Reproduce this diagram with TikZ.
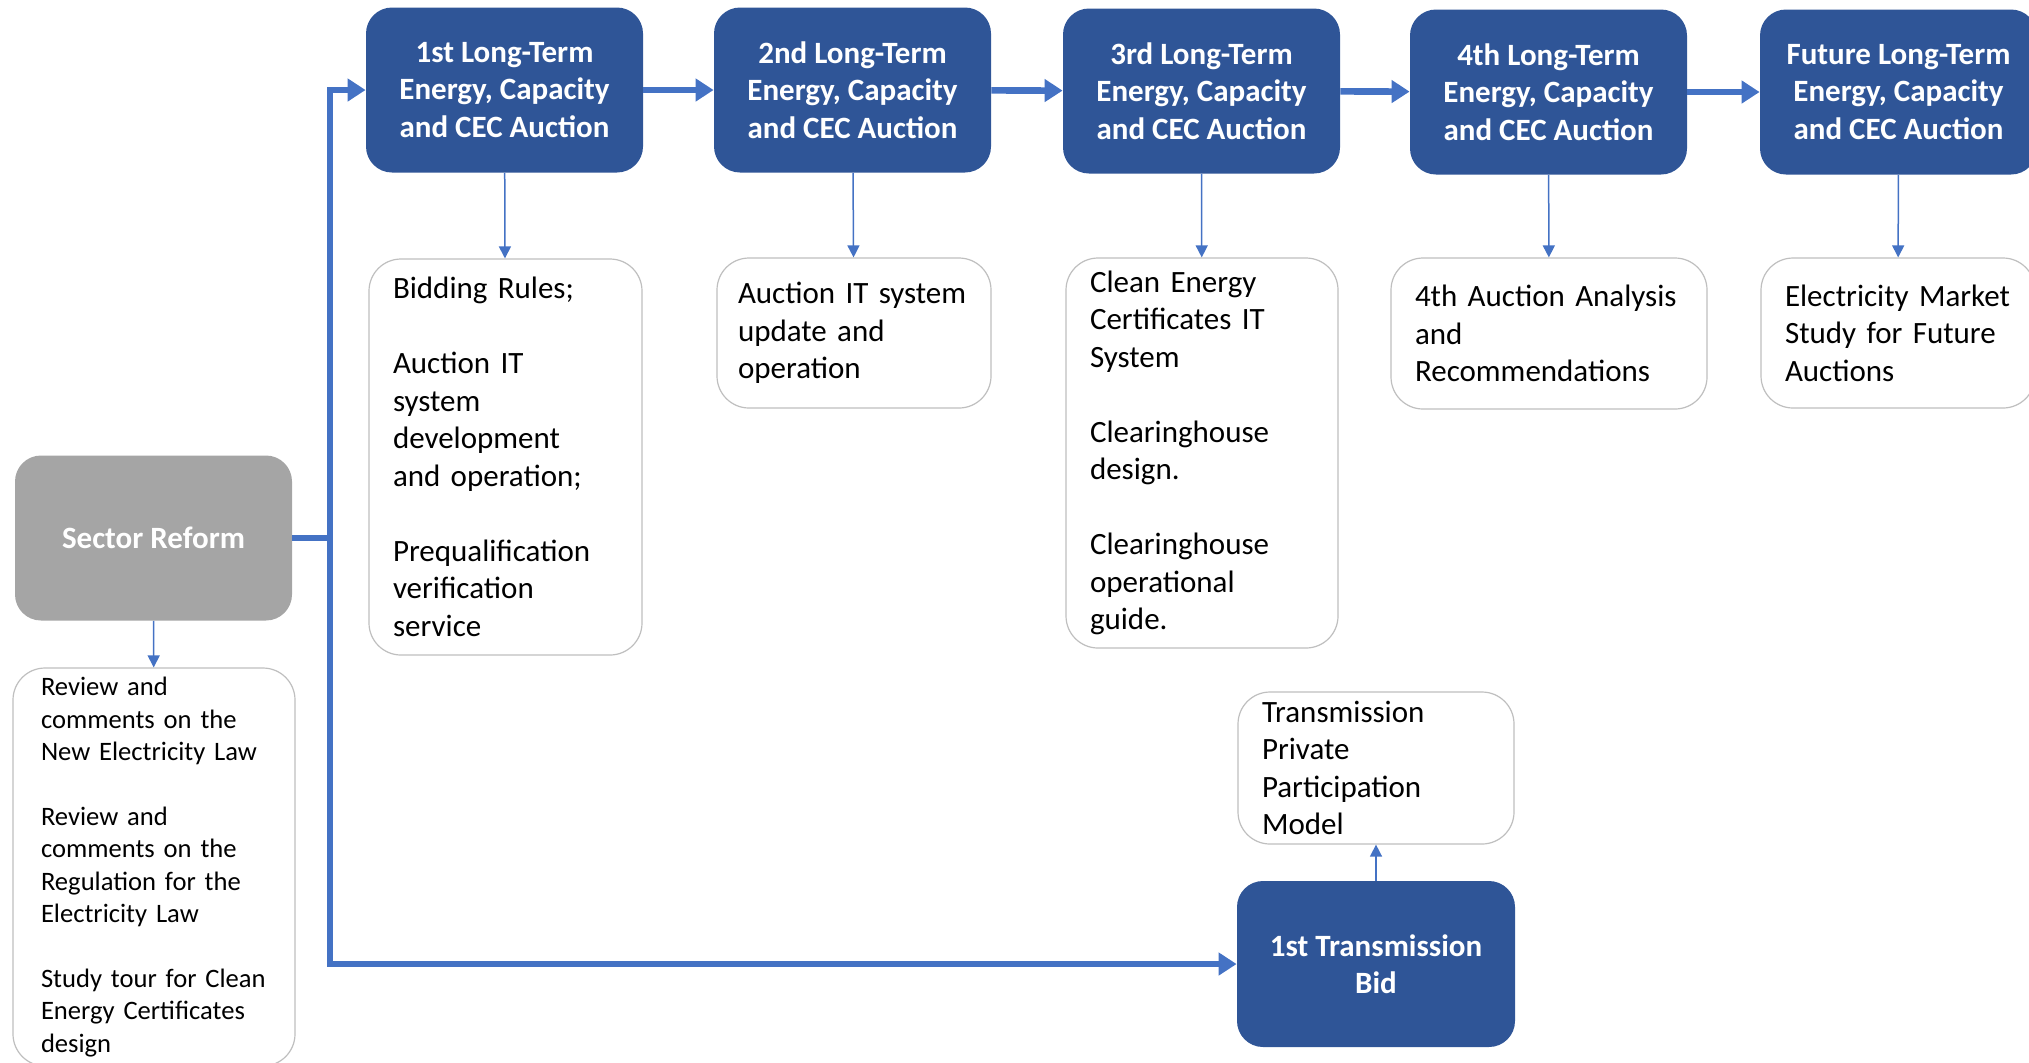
\documentclass[tikz,border=0pt]{standalone}
\usepackage{fontspec}
\setmainfont{Carlito}
\usepackage{xcolor}
\definecolor{auctionblue}{RGB}{47,85,151}
\definecolor{arrowblue}{RGB}{68,114,196}
\definecolor{reformgray}{RGB}{165,165,165}
\definecolor{edgegray}{RGB}{191,191,191}
\usetikzlibrary{arrows.meta}
\usetikzlibrary{positioning}

\begin{document}
\begin{tikzpicture}[x=0.5pt, y=-0.5pt,
	bigbox/.style={rounded corners=13pt, fill=auctionblue, text=white, align=center, font=\bfseries\fontsize{15.5}{18.75}\selectfont, minimum width=138.5pt, minimum height=82.5pt, inner sep=2pt},
	taskbox/.style={rounded corners=16pt, draw=edgegray, line width=0.6pt, fill=white, align=left, inner xsep=12pt, inner ysep=2pt, font=\fontsize{15.5}{18.75}\selectfont},
	mainflow/.style={draw=arrowblue, line width=3.3pt, -{Triangle[length=9pt,width=11pt]}},
	subflow/.style={draw=arrowblue, line width=0.75pt, -{Triangle[length=6pt,width=6pt]}}]
	\useasboundingbox (0,0) rectangle (2029,1062);
			% auctions
	\node[bigbox] (auc1) at (504.5,90) {1st Long-Term\\Energy, Capacity\\and CEC Auction};
	\node[bigbox] (auc2) at (852.5,90) {2nd Long-Term\\Energy, Capacity\\and CEC Auction};
	\node[bigbox] (auc3) at (1201.5,91) {3rd Long-Term\\Energy, Capacity\\and CEC Auction};
	\node[bigbox] (auc4) at (1548.5,92) {4th Long-Term\\Energy, Capacity\\and CEC Auction};
	\node[bigbox] (auc5) at (1898.5,92) {Future Long-Term\\Energy, Capacity\\and CEC Auction};
	\node[bigbox, fill=reformgray] (reform) at (153.5,538) {Sector Reform};
	\node[bigbox, minimum width=139pt, minimum height=83pt] (tbid) at (1376,964) {1st Transmission\\Bid};
			% tasks
	\node[taskbox, text width=112.5pt, minimum height=198pt] (task1) at (505.5,457) {Bidding Rules;\\[18.75pt]Auction IT\\system\\development\\and operation;\\[18.75pt]Prequalification\\verification\\service};
	\node[taskbox, inner xsep=10.5pt, text width=116pt, minimum height=75pt] (task2) at (854,333) {\mbox{Auction IT system}\\update and\\operation};
	\node[taskbox, text width=112pt, minimum height=195pt] (task3) at (1202,453) {Clean Energy\\Certificates IT\\System\\[18.75pt]Clearinghouse\\design.\\[18.75pt]Clearinghouse\\operational\\guide.};
	\node[taskbox, text width=134pt, minimum height=75.5pt] (task4) at (1549,333.5) {4th Auction Analysis\\and\\Recommendations};
	\node[taskbox, text width=113pt, minimum height=75pt] (task5) at (1898,333) {Electricity Market\\Study for Future\\Auctions};
	\node[taskbox, text width=114pt, minimum height=76pt] (ttask) at (1376,768) {Transmission\\Private\\Participation\\Model};
	\node[taskbox, inner xsep=14pt, text width=113pt, minimum height=199pt, font=\fontsize{13.3}{16.2}\selectfont] (rtask) at (154,867) {Review and\\comments on the\\New Electricity Law\\[16.2pt]Review and\\comments on the\\Regulation for the\\Electricity Law\\[16.2pt]Study tour for Clean\\Energy Certificates\\design};
			% flow
	\coordinate (split) at (330,538);
	\draw[mainflow, -] (reform.east) -- (split);
	\draw[mainflow] (split) |- (auc1.west);
	\draw[mainflow] (split) |- (tbid.west);
	\draw[mainflow] (auc1) -- (auc2);
	\draw[mainflow] (auc2) -- (auc3);
	\draw[mainflow] (auc3) -- (auc4);
	\draw[mainflow] (auc4) -- (auc5);
	\draw[subflow] (auc1) -- (task1);
	\draw[subflow] (auc2) -- (task2);
	\draw[subflow] (auc3) -- (task3);
	\draw[subflow] (auc4) -- (task4);
	\draw[subflow] (auc5) -- (task5);
	\draw[subflow] (reform) -- (rtask);
	\draw[subflow] (tbid) -- (ttask);
\end{tikzpicture}
\end{document}
